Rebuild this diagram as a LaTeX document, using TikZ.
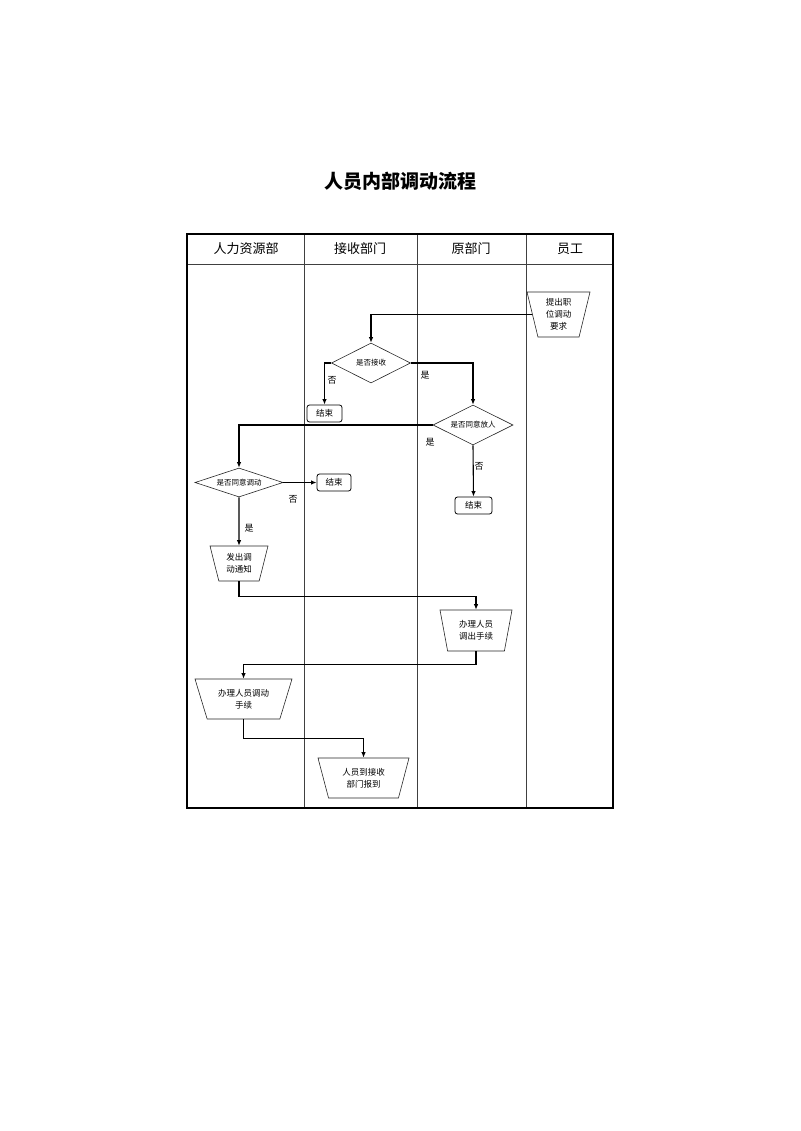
\documentclass[tikz,border=0pt]{standalone}
\usepackage{fontspec}
\setmainfont{Noto Sans CJK SC}
\usetikzlibrary{shapes.geometric,arrows.meta}
\begin{document}
\begin{tikzpicture}[x=1pt,y=-1pt,
  lane/.style={draw=black!75,line width=0.6pt},
  border/.style={draw=black,line width=1.4pt},
  head/.style={font=\fontsize{13}{15}\selectfont},
  flow/.style={draw=black,line width=1.1pt,-{Latex[length=5.5pt,width=4.5pt]}},
  trap/.style={draw=black!85,line width=0.6pt,trapezium,shape border rotate=180,trapezium stretches body,inner sep=0pt,align=center,font=\fontsize{8.5}{12}\selectfont},
  dec/.style={draw=black!85,line width=0.6pt,diamond,inner sep=0pt,font=\fontsize{7.5}{9}\selectfont},
  endbox/.style={draw=black,line width=0.8pt,rounded corners=2.5pt,minimum height=17pt,inner sep=0pt,font=\fontsize{8.5}{10}\selectfont},
  lbl/.style={font=\fontsize{9}{10}\selectfont,inner sep=0pt}]
\useasboundingbox (0,0) rectangle (800,1131);
\node[font=\fontsize{19}{22}\selectfont\bfseries] (title) at (400,181) {人员内部调动流程};
% lanes
\draw[lane] (187,264) -- (613,264);
\draw[lane] (304,234) -- (304,808);
\draw[lane] (417,234) -- (417,808);
\draw[lane] (526,234) -- (526,808);
\draw[border] (187,234) rectangle (613,808);
\node[head] (h1) at (246,249) {人力资源部};
\node[head] (h2) at (360,249) {接收部门};
\node[head] (h3) at (471,249) {原部门};
\node[head] (h4) at (570,249) {员工};
% nodes
\node[trap,trapezium left angle=71,trapezium right angle=71,minimum width=63pt,minimum height=45pt] (t1) at (558.5,314.5) {提出职\\位调动\\要求};
\node[dec,shape aspect=2,minimum width=79pt,minimum height=40pt] (d1) at (371,363) {是否接收};
\node[endbox,minimum width=35pt] (e1) at (324.5,413.5) {结束};
\node[dec,shape aspect=2,minimum width=80pt,minimum height=40pt] (d2) at (473,425) {是否同意放人};
\node[endbox,minimum width=37pt] (e2) at (473.5,505.5) {结束};
\node[dec,shape aspect=3.2,minimum width=88pt,minimum height=29pt] (d3) at (239,482.5) {是否同意调动};
\node[endbox,minimum width=34pt] (e3) at (334,482.5) {结束};
\node[trap,trapezium left angle=66,trapezium right angle=66,minimum width=58pt,minimum height=35pt] (t2) at (239,563.5) {发出调\\动通知};
\node[trap,trapezium left angle=69,trapezium right angle=69,minimum width=72pt,minimum height=41pt] (t3) at (476,630.5) {办理人员\\调出手续};
\node[trap,trapezium left angle=58.5,trapezium right angle=58.5,minimum width=97pt,minimum height=40pt] (t4) at (243.5,699) {办理人员调动\\手续};
\node[trap,trapezium left angle=62,trapezium right angle=62,minimum width=91pt,minimum height=40pt] (t5) at (363.5,778) {人员到接收\\部门报到};
% connectors
\draw[flow] (t1.west) -| (d1.north);
\draw[flow] (d1.west) -| (e1.north);
\draw[flow] (d1.east) -| (d2.north);
\draw[flow] (d2.west) -| (d3.north);
\draw[flow] (d2.south) -- (e2.north);
\draw[flow] (d3.east) -- (e3.west);
\draw[flow] (d3.south) -- (t2.north);
\draw[flow] (t2.south) -- ++(0,15) -| (t3.north);
\draw[flow] (t3.south) -- ++(0,13) -| (t4.north);
\draw[flow] (t4.south) -- ++(0,19) -| (t5.north);
% labels
\node[lbl] (l1) at (332,380) {否};
\node[lbl] (l2) at (425,375) {是};
\node[lbl] (l3) at (430,442) {是};
\node[lbl] (l4) at (479,466) {否};
\node[lbl] (l5) at (293,499) {否};
\node[lbl] (l6) at (249,528) {是};
\end{tikzpicture}
\end{document}
